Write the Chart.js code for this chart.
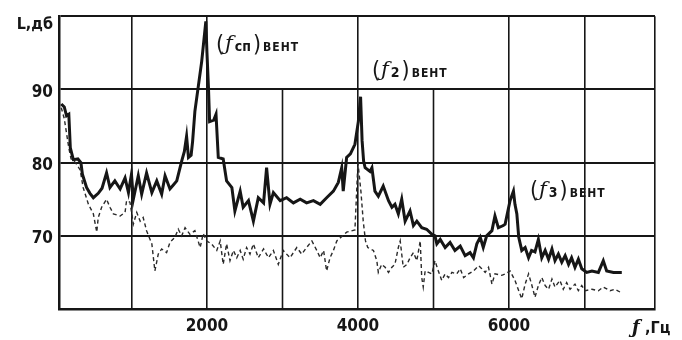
<!DOCTYPE html>
<html>
<head>
<meta charset="utf-8">
<script src="https://cdn.jsdelivr.net/npm/chart.js@4.4.1/dist/chart.umd.min.js"></script>
<style>
  html, body { margin: 0; padding: 0; background: #fff; }
  #wrap { width: 682px; height: 340px; position: relative; }
</style>
</head>
<body>
<div id="wrap"><canvas id="spectrum"></canvas></div>
<script>
// Sound level spectrum, L (dB) vs f (Hz)
// solid curve
const freqSolid = [70, 110, 140, 170, 190, 230, 290, 330, 350, 405, 450, 495, 560, 610, 670, 715, 780, 850, 915, 960,
  1000, 1025, 1090, 1135, 1200, 1270, 1335, 1400, 1445, 1510, 1560, 1600, 1665, 1700, 1730, 1755, 1790, 1810, 1840, 1930,
  1985, 2000, 2020, 2035, 2090, 2120, 2150, 2215, 2260, 2330, 2370, 2440, 2480, 2550, 2615, 2680, 2750, 2790, 2835, 2880,
  2970, 3055, 3145, 3235, 3320, 3410, 3500, 3585, 3675, 3740, 3785, 3805, 3850, 3900, 3960, 4005, 4035, 4055, 4075, 4095,
  4160, 4185, 4225, 4270, 4335, 4405, 4450, 4490, 4535, 4580, 4625, 4690, 4735, 4780, 4845, 4910, 4980, 5020, 5045, 5090,
  5155, 5220, 5285, 5355, 5420, 5485, 5530, 5575, 5620, 5660, 5705, 5775, 5815, 5860, 5925, 5950, 6015, 6060, 6080, 6105,
  6130, 6170, 6215, 6260, 6300, 6345, 6390, 6435, 6480, 6525, 6570, 6610, 6655, 6700, 6745, 6790, 6830, 6875, 6920, 6965,
  7030, 7100, 7185, 7250, 7295, 7385, 7495];
const levelSolid = [88.0, 87.6, 86.4, 86.6, 82.0, 80.4, 80.5, 80.0, 78.4, 76.6, 75.8, 75.2, 75.8, 76.5, 78.6, 76.6, 77.5, 76.4, 77.9, 75.9,
  78.4, 75.0, 78.2, 75.7, 78.6, 75.9, 77.5, 75.7, 78.2, 76.4, 77.0, 77.5, 80.2, 81.5, 83.6, 80.7, 81.0, 82.9, 87.0, 93.8,
  99.3, 95.0, 90.2, 85.6, 85.8, 86.6, 80.7, 80.5, 77.5, 76.6, 73.4, 76.1, 73.9, 74.8, 72.0, 75.2, 74.5, 79.3, 74.3, 75.9,
  74.8, 75.2, 74.5, 75.0, 74.5, 74.8, 74.3, 75.2, 76.1, 77.3, 79.3, 76.1, 80.7, 81.2, 82.5, 85.6, 89.0, 83.0, 80.2, 79.3,
  78.8, 79.3, 76.1, 75.4, 76.8, 74.8, 73.9, 74.3, 73.0, 75.0, 72.0, 73.4, 71.4, 72.0, 71.1, 70.9, 70.2, 70.0, 68.9, 69.5,
  68.4, 69.1, 68.0, 68.6, 67.3, 67.7, 67.0, 68.9, 69.8, 68.4, 70.0, 70.7, 72.7, 71.1, 71.4, 71.6, 74.8, 76.1, 74.3, 73.0,
  69.8, 68.0, 68.4, 67.0, 68.0, 67.8, 69.5, 67.0, 68.0, 66.8, 68.2, 66.6, 67.5, 66.4, 67.3, 66.1, 67.0, 65.7, 66.8, 65.5,
  65.0, 65.2, 65.0, 66.6, 65.2, 65.0, 65.0];

// dashed curve
const freqDashed = [70, 110, 140, 170, 200, 260, 320, 360, 430, 495, 540, 560, 605, 670, 715, 760, 850, 915, 935, 980,
  1025, 1070, 1115, 1155, 1200, 1270, 1310, 1355, 1400, 1465, 1510, 1575, 1620, 1665, 1710, 1775, 1840, 1910, 1950, 1995,
  2060, 2130, 2175, 2215, 2260, 2305, 2350, 2395, 2440, 2480, 2525, 2570, 2615, 2680, 2750, 2815, 2880, 2945, 3010, 3100,
  3190, 3255, 3320, 3390, 3455, 3500, 3545, 3585, 3630, 3675, 3720, 3850, 3960, 4000, 4040, 4070, 4100, 4130, 4205, 4250,
  4270, 4315, 4360, 4405, 4450, 4490, 4535, 4560, 4600, 4650, 4690, 4735, 4780, 4825, 4845, 4865, 4890, 4935, 4980, 5020,
  5065, 5110, 5155, 5200, 5245, 5310, 5355, 5400, 5465, 5530, 5600, 5640, 5685, 5730, 5775, 5815, 5905, 5950, 6015, 6080,
  6130, 6170, 6215, 6260, 6300, 6345, 6390, 6435, 6480, 6525, 6570, 6610, 6675, 6720, 6765, 6810, 6875, 6920, 6965, 7010,
  7100, 7185, 7250, 7340, 7405, 7475];
const levelDashed = [87.5, 86.0, 84.0, 82.0, 80.5, 80.0, 79.0, 76.6, 74.3, 73.0, 70.5, 72.5, 73.9, 75.0, 73.9, 73.0, 72.7, 73.2, 74.8, 74.6,
  71.6, 73.2, 72.0, 72.5, 70.7, 68.9, 65.2, 67.5, 68.2, 67.7, 69.1, 69.8, 70.9, 70.0, 71.1, 70.2, 70.7, 68.4, 70.3, 69.3,
  68.9, 68.0, 69.3, 66.1, 68.9, 66.6, 68.0, 67.0, 68.0, 66.8, 68.4, 67.5, 68.9, 67.0, 68.2, 67.0, 68.0, 66.1, 68.0, 67.0,
  68.4, 67.5, 68.4, 69.3, 68.0, 67.0, 68.0, 65.2, 67.0, 68.0, 69.3, 70.5, 70.8, 80.0, 76.0, 72.0, 69.3, 68.4, 68.0, 66.6,
  65.0, 66.1, 65.7, 65.0, 65.7, 66.1, 68.4, 69.3, 65.7, 66.1, 67.0, 67.7, 66.6, 69.3, 64.3, 63.0, 65.2, 65.0, 64.8, 66.6,
  65.2, 63.9, 64.8, 64.3, 65.0, 64.8, 65.5, 64.3, 64.8, 65.2, 65.9, 65.5, 65.0, 65.7, 63.4, 64.8, 64.6, 64.8, 65.2, 63.9,
  62.5, 61.4, 63.4, 64.8, 63.4, 61.6, 63.2, 64.3, 63.2, 62.7, 64.1, 63.0, 63.9, 62.7, 63.6, 62.7, 63.4, 62.5, 63.2, 62.5,
  62.7, 62.5, 63.0, 62.5, 62.7, 62.3];

const xTicks = [1000, 2000, 3000, 4000, 5000, 6000, 7000];
const xShortLines = [3000, 5000];   // these grid lines start at the 90 dB line
const xLabels = [2000, 4000, 6000];
const yTicks = [70, 80, 90];

const X_MIN = 40, X_MAX = 7935;
const Y_MIN = 60, Y_MAX = 100;
const INK = '#161616';
const FONT = '"DejaVu Sans Condensed", "DejaVu Sans", sans-serif';

function toPoints(xs, ys) {
  return xs.map((x, i) => ({ x: x, y: ys[i] }));
}

// short vertical grid lines
const shortGrid = {
  id: 'shortGrid',
  beforeDatasetsDraw(chart) {
    const { ctx, scales: { x, y } } = chart;
    ctx.save();
    ctx.strokeStyle = INK;
    ctx.lineWidth = 1.6;
    xShortLines.forEach(v => {
      const px = Math.round(x.getPixelForValue(v)) + 0.5;
      ctx.beginPath();
      ctx.moveTo(px, y.getPixelForValue(90));
      ctx.lineTo(px, y.getPixelForValue(Y_MIN));
      ctx.stroke();
    });
    ctx.restore();
  }
};

// peak captions and axis names
const captions = {
  id: 'captions',
  afterDraw(chart) {
    const ctx = chart.ctx;
    ctx.save();
    ctx.fillStyle = INK;
    ctx.textBaseline = 'alphabetic';

    function peak(x, y, sub) {
      let cx = x;
      ctx.font = '23px ' + FONT;
      ctx.fillText('(', cx, y);
      cx += ctx.measureText('(').width + 1;
      ctx.font = 'italic 21px "DejaVu Serif", serif';
      ctx.fillText('ƒ', cx, y - 2);
      cx += ctx.measureText('ƒ').width + 2;
      ctx.font = 'bold 14px ' + FONT;
      ctx.fillText(sub, cx, y - 1);
      cx += ctx.measureText(sub).width + 2;
      ctx.font = '23px ' + FONT;
      ctx.fillText(')', cx, y);
      cx += ctx.measureText(')').width + 2;
      ctx.font = 'bold 12px ' + FONT;
      ctx.letterSpacing = '1px';
      ctx.fillText('ВЕНТ', cx, y - 1);
      ctx.letterSpacing = '0px';
    }
    peak(216, 52, 'сп');
    peak(372, 78, '2');
    peak(530, 198, '3');

    ctx.font = 'bold 16px ' + FONT;
    ctx.textAlign = 'right';
    ctx.fillText('L,дб', 53, 29);
    ctx.textAlign = 'left';
    ctx.font = 'italic bold 18px "DejaVu Serif", serif';
    ctx.fillText('ƒ', 632, 333);
    ctx.font = 'bold 16px ' + FONT;
    ctx.fillText(',Гц', 645, 333);
    ctx.restore();
  }
};

new Chart(document.getElementById('spectrum'), {
  type: 'line',
  data: {
    datasets: [{
      label: 'L',
      data: toPoints(freqSolid, levelSolid),
      borderColor: INK,
      borderWidth: 3,
      pointRadius: 0,
      tension: 0
    }, {
      label: 'L2',
      data: toPoints(freqDashed, levelDashed),
      borderColor: '#2a2a2a',
      borderWidth: 1.4,
      borderDash: [4, 3],
      pointRadius: 0,
      tension: 0
    }]
  },
  options: {
    responsive: true,
    maintainAspectRatio: false,
    animation: false,
    layout: { padding: { left: 0, top: 15, right: 27, bottom: 0 } },
    plugins: {
      legend: { display: false },
      tooltip: { enabled: false }
    },
    scales: {
      x: {
        type: 'linear',
        min: X_MIN,
        max: X_MAX,
        afterBuildTicks: (scale) => {
          scale.ticks = [X_MIN, ...xTicks, X_MAX].map(v => ({ value: v }));
        },
        afterFit: (scale) => { scale.height = 31; },
        grid: {
          color: (c) => (c.tick && xShortLines.includes(c.tick.value)) ? 'rgba(0,0,0,0)' : INK,
          lineWidth: 1.6,
          drawTicks: false
        },
        border: { color: INK, width: 2.5 },
        ticks: {
          padding: 7,
          color: INK,
          font: { family: FONT, size: 17, weight: 'bold' },
          maxRotation: 0,
          autoSkip: false,
          callback: (v) => xLabels.includes(v) ? String(v) : ''
        }
      },
      y: {
        min: Y_MIN,
        max: Y_MAX,
        afterBuildTicks: (scale) => {
          scale.ticks = [Y_MIN, ...yTicks, Y_MAX].map(v => ({ value: v }));
        },
        afterFit: (scale) => { scale.width = 59; },
        grid: { color: INK, lineWidth: 2, drawTicks: false },
        border: { color: INK, width: 2.5 },
        ticks: {
          padding: 6,
          color: INK,
          labelOffset: 3,
          font: { family: FONT, size: 17, weight: 'bold' },
          callback: (v) => yTicks.includes(v) ? String(v) : ''
        }
      }
    }
  },
  plugins: [shortGrid, captions]
});
</script>
</body>
</html>
